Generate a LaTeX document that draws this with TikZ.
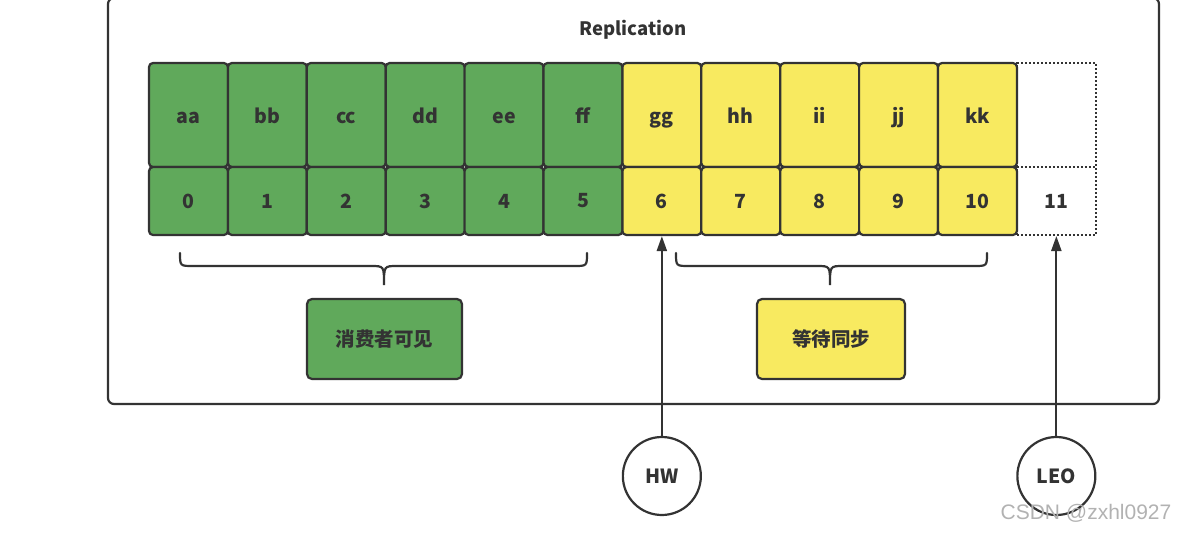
\documentclass[tikz,border=0pt]{standalone}
\usepackage{fontspec}
\newfontfamily\cjk{Noto Sans CJK SC}
\newfontfamily\plainsans{Liberation Sans}
\usetikzlibrary{arrows.meta}
\definecolor{ink}{HTML}{333333}
\definecolor{okgreen}{HTML}{60A95B}
\definecolor{waityellow}{HTML}{F8EA60}
\tikzset{
  txt/.style={font=\cjk\bfseries\fontsize{19.5}{22}\selectfont, text=ink},
  cell/.style={txt, draw=ink, line width=2.2pt, rounded corners=4pt, inner sep=0pt},
  topcell/.style={cell, minimum width=78.9pt, minimum height=104pt, text height=16pt, text depth=0pt},
  idxcell/.style={cell, minimum width=78.9pt, minimum height=68pt},
  emptycell/.style={txt, draw=ink, line width=2pt, dotted, inner sep=0pt, minimum width=78.9pt},
  tag/.style={txt, draw=ink, line width=2.2pt, rounded corners=5pt, inner sep=0pt},
  ptr/.style={txt, draw=ink, line width=2.2pt, circle, fill=white, minimum size=78pt, inner sep=0pt},
  brace/.style={draw=ink, line width=2.2pt, line cap=round},
  pointer/.style={draw=ink, line width=2.2pt, -{Triangle[length=15pt,width=10pt]}}
}
\begin{document}
\begin{tikzpicture}[x=1pt,y=-1pt]
\useasboundingbox (0,0) rectangle (1178,533);
% outer frame
\draw[ink, line width=2.2pt, rounded corners=6pt] (108,-2) rectangle (1159,404);
\node[txt, font=\cjk\bfseries\fontsize{18.5}{21}\selectfont] (title) at (633,30) {Replication};

% log cells
\foreach \i/\s in {0/aa,1/bb,2/cc,3/dd,4/ee,5/ff}{
  \node[topcell, fill=okgreen] (m\i) at ({188.45+78.9*\i},115) {\s};
  \node[idxcell, fill=okgreen] (n\i) at ({188.45+78.9*\i},201) {\i};
}
\foreach \i/\s in {6/gg,7/hh,8/ii,9/jj,10/kk}{
  \node[topcell, fill=waityellow] (m\i) at ({188.45+78.9*\i},115) {\s};
  \node[idxcell, fill=waityellow] (n\i) at ({188.45+78.9*\i},201) {\i};
}
\node[emptycell, minimum height=104pt] (m11) at ({188.45+78.9*11},115) {};
\node[emptycell, minimum height=68pt] (n11) at ({188.45+78.9*11},201) {11};

% braces
\draw[brace] (180,253) .. controls (180,266) .. (193,266) -- (371,266)
  .. controls (384,266) .. (384,285) .. controls (384,266) .. (397,266)
  -- (574,266) .. controls (587,266) .. (587,253);
\draw[brace] (676,253) .. controls (676,266) .. (689,266) -- (817,266)
  .. controls (830,266) .. (830,285) .. controls (830,266) .. (843,266)
  -- (974,266) .. controls (987,266) .. (987,253);

% group labels
\node[tag, fill=okgreen, minimum width=155pt, minimum height=80pt] (vis) at (384.5,339) {消费者可见};
\node[tag, fill=waityellow, minimum width=148pt, minimum height=80pt] (wait) at (831,339) {等待同步};

% offset pointers
\node[ptr] (hw) at (n6 |- 0,476) {HW};
\node[ptr] (leo) at (n11 |- 0,476) {LEO};
\draw[pointer] (hw) -- (n6.south);
\draw[pointer] (leo) -- (n11.south);

\node[font=\plainsans\fontsize{21}{25}\selectfont, text=black!30] (mark) at (1086,513) {CSDN @zxhl0927};
\end{tikzpicture}
\end{document}
